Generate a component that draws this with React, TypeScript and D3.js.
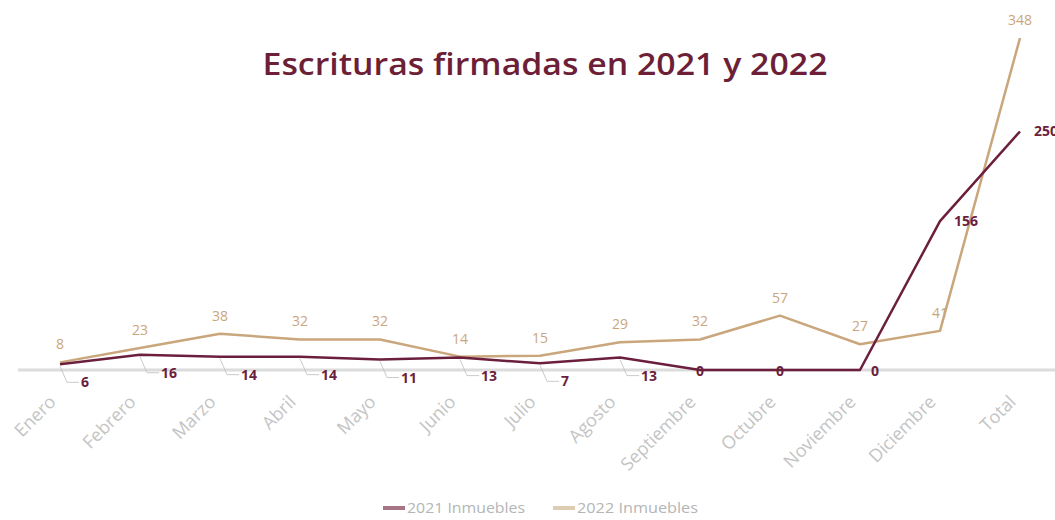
import React from "react";
import * as d3 from "d3";

const months = [
  "Enero",
  "Febrero",
  "Marzo",
  "Abril",
  "Mayo",
  "Junio",
  "Julio",
  "Agosto",
  "Septiembre",
  "Octubre",
  "Noviembre",
  "Diciembre",
  "Total",
];

const values2021 = [6, 16, 14, 14, 11, 13, 7, 13, 0, 0, 0, 156, 250];
const values2022 = [8, 23, 38, 32, 32, 14, 15, 29, 32, 57, 27, 41, 348];

const seriesNames = ["2021 Inmuebles", "2022 Inmuebles"];

const W = 1055;
const H = 520;
const c2021 = "#6b1f3d";
const c2022 = "#caa67c";

const App: React.FC = () => {
  const x = d3.scalePoint<string>().domain(months).range([60, 1020]);
  const y = d3.scaleLinear().domain([0, 348]).range([370, 38]);

  const line = d3
    .line<number>()
    .x((_, i) => x(months[i])!)
    .y((d) => y(d))
    .curve(d3.curveLinear);

  const last = months.length - 1;

  return (
    <svg
      width={W}
      height={H}
      style={{ position: "absolute", left: 0, top: 0, background: "#fff" }}
      fontFamily="'Open Sans', sans-serif"
    >
      {/* title */}
      <text
        x={545}
        y={75}
        textAnchor="middle"
        fontSize={30}
        fontWeight={600}
        fill="#6d1f38"
        textLength={565}
        lengthAdjust="spacingAndGlyphs"
      >
        Escrituras firmadas en 2021 y 2022
      </text>

      {/* baseline */}
      <line x1={18} x2={W} y1={y(0)} y2={y(0)} stroke="#dcdcdc" strokeWidth={3} />

      {/* category labels */}
      {months.map((m) => (
        <text
          key={m}
          transform={`translate(${x(m)! - 3},${y(0) + 33}) rotate(-45)`}
          textAnchor="end"
          fontSize={18}
          fill="#c4c4c4"
        >
          {m}
        </text>
      ))}

      {/* lines */}
      <path
        d={line(values2022)!}
        fill="none"
        stroke={c2022}
        strokeWidth={2.5}
        strokeLinejoin="round"
      />
      <path
        d={line(values2021)!}
        fill="none"
        stroke={c2021}
        strokeWidth={2.5}
        strokeLinejoin="round"
      />

      {/* 2022 labels */}
      {values2022.map((v, i) => (
        <text
          key={"b" + i}
          x={x(months[i])!}
          y={y(v) - 13}
          textAnchor="middle"
          fontSize={14}
          fill={c2022}
        >
          {v}
        </text>
      ))}

      {/* 2021 labels */}
      {values2021.map((v, i) => {
        const px = x(months[i])!;
        const py = y(v);
        if (i >= last - 1) {
          return (
            <text
              key={"a" + i}
              x={px + 14}
              y={py + 5}
              fontSize={14}
              fontWeight={700}
              fill={c2021}
            >
              {v}
            </text>
          );
        }
        if (v === 0) {
          return (
            <text
              key={"a" + i}
              x={px + (i === last - 2 ? 15 : 0)}
              y={py + 6}
              textAnchor="middle"
              fontSize={14}
              fontWeight={700}
              fill={c2021}
            >
              {v}
            </text>
          );
        }
        const lx = px + 21;
        const ly = py + 23;
        return (
          <g key={"a" + i}>
            <polyline
              points={`${px},${py + 2} ${px + 7},${ly - 5} ${lx - 2},${ly - 5}`}
              fill="none"
              stroke="#bdbdbd"
              strokeWidth={0.8}
            />
            <text x={lx} y={ly} fontSize={14} fontWeight={700} fill={c2021}>
              {v}
            </text>
          </g>
        );
      })}

      {/* legend */}
      <g fontSize={14} fill="#b5b5b5">
        <line x1={383} x2={405} y1={508} y2={508} stroke="#a67686" strokeWidth={4} />
        <text x={407} y={513} textLength={118} lengthAdjust="spacingAndGlyphs">
          {seriesNames[0]}
        </text>
        <line x1={553} x2={575} y1={508} y2={508} stroke="#ddccb4" strokeWidth={4} />
        <text x={577} y={513} textLength={121} lengthAdjust="spacingAndGlyphs">
          {seriesNames[1]}
        </text>
      </g>
    </svg>
  );
};

export default App;
